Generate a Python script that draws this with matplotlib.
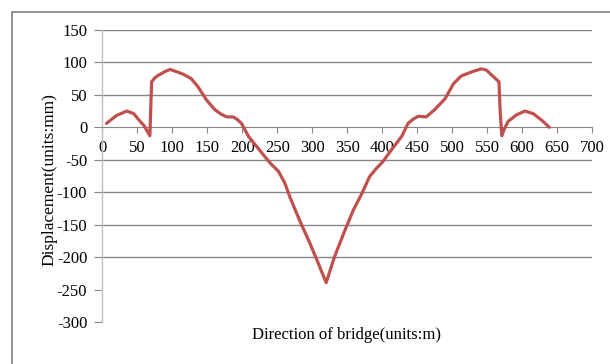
import matplotlib.pyplot as plt
from matplotlib.patches import Rectangle

# displacement along the bridge deck
x = [6, 20, 35, 45, 51, 60, 68, 69, 70.5, 75, 80, 90, 97, 105, 115, 127, 137, 149, 161,
     170, 178, 187, 193, 199, 209, 221, 230, 240, 252, 261, 268, 282, 297, 309, 320,
     332, 347, 359, 371, 382, 392, 401, 413, 428, 437, 445, 452, 463, 475, 490, 502,
     513, 530, 542, 549, 559, 567, 568.5, 571, 575, 580, 592, 604, 616, 628, 639]
y = [6, 18, 25, 21, 13, 2, -13, 20, 70, 76, 80, 86, 89, 86, 82, 75, 62, 42, 27,
     20, 16, 16, 12, 6, -14, -30, -42, -55, -68, -86, -107, -143, -179, -210, -239,
     -199, -158, -127, -102, -76, -63, -53, -35, -14, 6, 13, 17, 16, 27, 44, 67,
     79, 86, 90, 88, 78, 70, 30, -13, -2, 9, 19, 25, 21, 11, 0]

yticks = list(range(-300, 151, 50))
xticks = list(range(0, 701, 50))
grid_y = [150, 100, 50, -50, -100, -150, -200]

plt.rcParams['font.family'] = ['Liberation Serif', 'DejaVu Serif']
plt.rcParams['axes.unicode_minus'] = False

fig = plt.figure(figsize=(6.1, 3.64), dpi=100)
fig.patches.append(Rectangle((12/610, -0.1), 1.0, 1 - 12/364 + 0.1,
                             transform=fig.transFigure, fill=False,
                             edgecolor='#7f7f7f', linewidth=1.2))
ax = fig.add_axes([102.3/610, 1 - 322.3/364, 489.7/610, 292.5/364])

for g in grid_y:
    ax.axhline(g, color='#868686', linewidth=1.0, zorder=1)

ax.plot(x, y, color='#C0504D', linewidth=2.3, solid_capstyle='round', zorder=3)

ax.set_xlim(0, 700)
ax.set_ylim(-300, 150)
ax.set_xticks(xticks)
ax.set_yticks(yticks)

for s in ['top', 'right']:
    ax.spines[s].set_visible(False)
ax.spines['bottom'].set_position(('data', 0))
ax.spines['bottom'].set_color('#868686')
ax.spines['left'].set_color('#bfbfbf')
ax.spines['left'].set_linewidth(1.0)

ax.tick_params(axis='x', direction='out', length=4, color='#868686', pad=5, labelsize=12)
ax.tick_params(axis='y', direction='out', length=5.8, color='#868686', pad=5, labelsize=12)

fig.text(49/610, 1 - 180/364, 'Displacement(units:mm)', rotation=90,
         ha='center', va='center', fontsize=12.5)
fig.text(346/610, 1 - 335/364, 'Direction of bridge(units:m)',
         ha='center', va='center', fontsize=12)

fig.savefig('out.png', dpi=100)
